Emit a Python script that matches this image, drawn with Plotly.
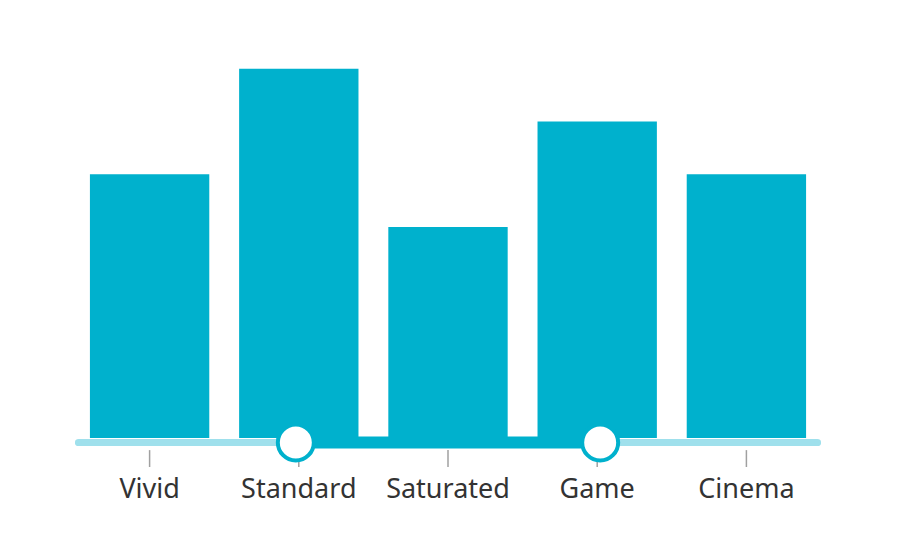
import plotly.graph_objects as go

categories = ["Vivid", "Standard", "Saturated", "Game", "Cinema"]
values = [5, 7, 4, 6, 5]
range_start = 1  # index of left handle (Standard)
range_end = 3    # index of right handle (Game)

BAR = "#00b1cd"
LIGHT = "#9fe0ec"
xs = list(range(len(categories)))
y_slider = -0.085

fig = go.Figure()
fig.add_trace(go.Bar(x=xs, y=values, marker=dict(color=BAR, line=dict(width=0)),
                     hoverinfo="skip"))
# tick marks
tx, ty = [], []
for x in xs:
    tx += [x, x, None]
    ty += [-0.23, -0.55, None]
fig.add_trace(go.Scatter(x=tx, y=ty, mode="lines", line=dict(color="#a0a0a0", width=1.5),
                         hoverinfo="skip"))
# track
fig.add_trace(go.Scatter(x=[xs[0] - 0.477, xs[-1] + 0.477], y=[y_slider, y_slider], mode="lines+markers",
                         line=dict(color=LIGHT, width=7), marker=dict(size=7, color=LIGHT),
                         hoverinfo="skip"))
# selected range
fig.add_trace(go.Scatter(x=[xs[range_start], xs[range_end]], y=[y_slider, y_slider], mode="lines",
                         line=dict(color=BAR, width=12), hoverinfo="skip"))
# handles
fig.add_trace(go.Scatter(x=[xs[range_start] - 0.02, xs[range_end] + 0.02], y=[y_slider, y_slider],
                         mode="markers",
                         marker=dict(size=36, color="white", line=dict(color=BAR, width=4)),
                         hoverinfo="skip"))

fig.update_layout(
    width=900, height=541,
    margin=dict(l=67, r=87, t=8, b=82),
    paper_bgcolor="white", plot_bgcolor="white",
    showlegend=False, bargap=0.2,
    font=dict(family="Noto Sans, Open Sans, sans-serif", color="#333333"),
    xaxis=dict(range=[-0.5, len(categories) - 0.5], tickvals=xs, ticktext=categories,
               ticks="", showgrid=False, zeroline=False, showline=False,
               ticklabelstandoff=3,
               tickfont=dict(size=27, color="#333333")),
    yaxis=dict(range=[-0.55, 8], visible=False, showgrid=False, zeroline=False),
)

fig.write_html("out.html")
